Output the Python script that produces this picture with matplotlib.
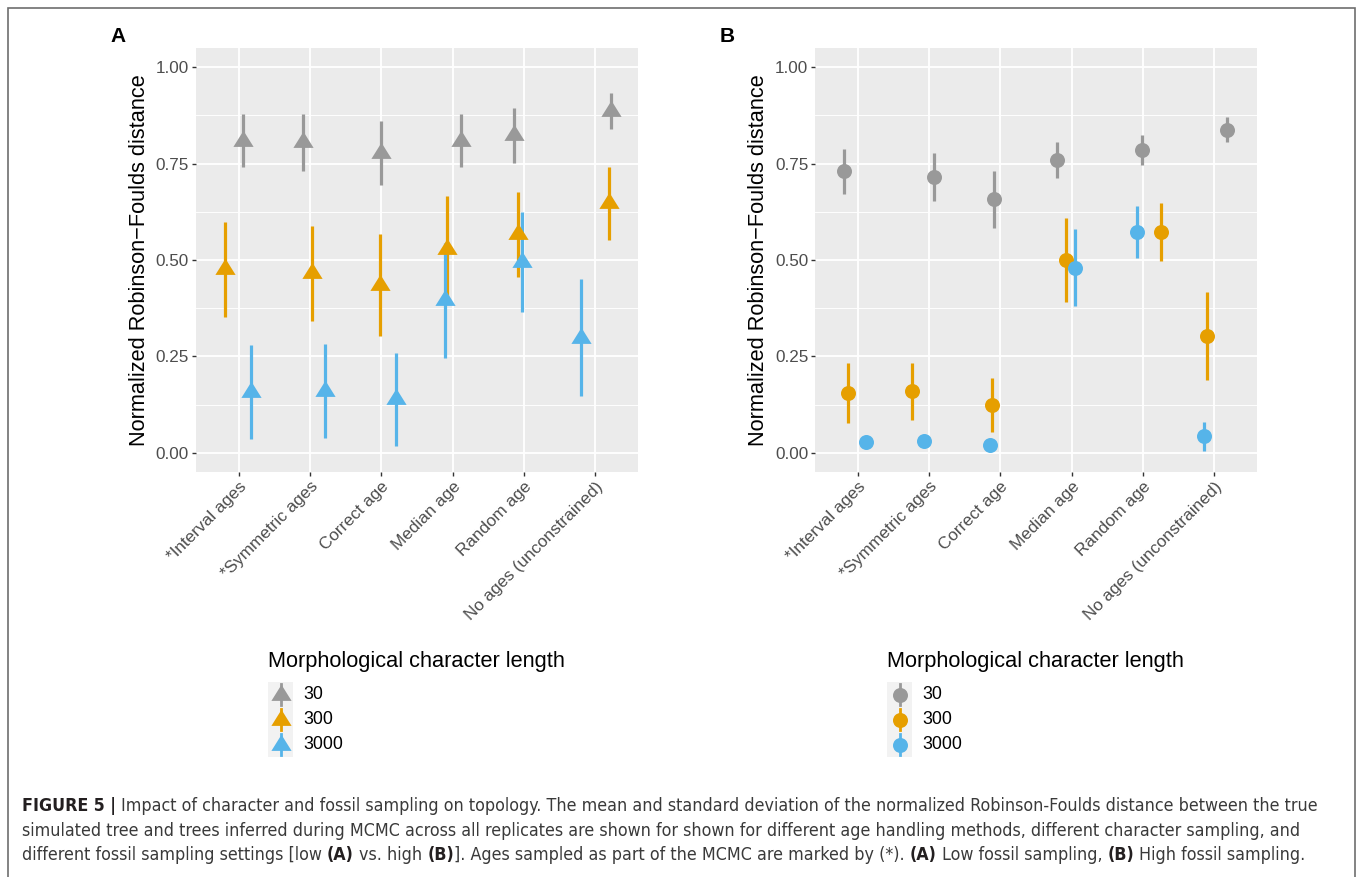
import numpy as np
import matplotlib
matplotlib.use("Agg")
import matplotlib.pyplot as plt
from matplotlib import font_manager
from matplotlib.patches import Rectangle
from matplotlib.lines import Line2D

plt.rcParams['font.family'] = ['Liberation Sans', 'DejaVu Sans']

# data
categories = ["*Interval ages", "*Symmetric ages", "Correct age",
              "Median age", "Random age", "No ages (unconstrained)"]
lengths = ["30", "300", "3000"]
colors = ["#999999", "#E69F00", "#56B4E9"]

# panel A - low fossil sampling
mean_a_30 = [0.810, 0.805, 0.778, 0.810, 0.823, 0.887]
sd_a_30 = [0.070, 0.073, 0.083, 0.070, 0.071, 0.046]
mean_a_300 = [0.476, 0.466, 0.435, 0.528, 0.567, 0.647]
sd_a_300 = [0.123, 0.123, 0.132, 0.137, 0.110, 0.094]
mean_a_3000 = [0.158, 0.161, 0.139, 0.395, 0.495, 0.298]
sd_a_3000 = [0.122, 0.122, 0.121, 0.149, 0.130, 0.152]

# panel B - high fossil sampling
mean_b_30 = [0.730, 0.715, 0.657, 0.759, 0.785, 0.838]
sd_b_30 = [0.058, 0.062, 0.074, 0.046, 0.038, 0.033]
mean_b_300 = [0.155, 0.159, 0.124, 0.500, 0.572, 0.303]
sd_b_300 = [0.079, 0.073, 0.069, 0.108, 0.075, 0.115]
mean_b_3000 = [0.027, 0.030, 0.020, 0.480, 0.573, 0.043]
sd_b_3000 = [0.010, 0.010, 0.010, 0.100, 0.068, 0.038]

# horizontal jitter of each point (category units)
jit_a_30 = [0.06, -0.105, 0.0, 0.115, -0.135, 0.22]
jit_a_300 = [-0.19, 0.025, -0.015, -0.08, -0.08, 0.195]
jit_a_3000 = [0.175, 0.21, 0.21, -0.11, -0.03, -0.205]
jit_b_30 = [-0.20, 0.07, -0.09, -0.21, -0.02, 0.18]
jit_b_300 = [-0.14, -0.24, -0.12, -0.08, 0.25, -0.10]
jit_b_3000 = [0.11, -0.07, -0.15, 0.05, -0.08, -0.14]

W, H = 1358, 877
fig = plt.figure(figsize=(W / 100, H / 100), dpi=100)

tri = [(0, 0.533), (-0.5, -0.267), (0.5, -0.267)]
TRI_MS = 15.5
DOT_MS = 10.8
TICK_FS = 12.3


def px_axes(left, top, right, bottom):
    return fig.add_axes([left / W, 1 - bottom / H, (right - left) / W, (bottom - top) / H])


def panel(ax, means, sds, jits, marker, ms):
    x = np.arange(1, len(categories) + 1)
    for m, s, j, c in zip(means, sds, jits, colors):
        m = np.array(m); s = np.array(s)
        ax.vlines(x + np.array(j), m - s, m + s, color=c, lw=2.3, zorder=2)
    for m, j, c in zip(means, jits, colors):
        ax.plot(x + np.array(j), m, ls='none', marker=marker, ms=ms, color=c,
                mec='none', zorder=3)
    ax.set_facecolor('#EBEBEB')
    for sp in ax.spines.values():
        sp.set_visible(False)
    ax.set_xlim(0.4, 6.6)
    ax.set_ylim(-0.05, 1.05)
    ax.set_xticks(x)
    ax.set_xticklabels(categories, rotation=45, ha='right', va='top',
                       rotation_mode='anchor', fontsize=TICK_FS, color='#4D4D4D')
    ax.set_yticks([0, 0.25, 0.5, 0.75, 1.0])
    ax.set_yticklabels(["0.00", "0.25", "0.50", "0.75", "1.00"], fontsize=TICK_FS, color='#4D4D4D')
    ax.set_yticks([0.125, 0.375, 0.625, 0.875], minor=True)
    ax.tick_params(which='major', length=2.75, width=1.0, color='#333333', pad=2.2)
    ax.tick_params(which='minor', length=0)
    ax.grid(which='major', color='white', lw=1.3)
    ax.grid(which='minor', axis='y', color='white', lw=0.65)
    ax.set_axisbelow(True)
    ax.set_ylabel("Normalized Robinson\u2212Foulds distance", fontsize=15.7, va='center')
    ax.yaxis.set_label_coords(-56 / 442, 0.5)


def legend(x0, marker, ms):
    fig.text(x0 / W, 1 - 662 / H, "Morphological character length", fontsize=15.7,
             va='center', ha='left')
    fig.add_artist(Rectangle((x0 / W, 1 - 757 / H), 25 / W, 75 / H,
                             transform=fig.transFigure, fc='#F2F2F2', ec='none'))
    for i, (lab, c) in enumerate(zip(lengths, colors)):
        yc = 694.5 + 25 * i
        fig.add_artist(Line2D([(x0 + 12.5) / W] * 2, [1 - (yc - 10.5) / H, 1 - (yc + 10.5) / H],
                              color=c, lw=2.0, transform=fig.transFigure))
        fig.add_artist(Line2D([(x0 + 12.5) / W], [1 - yc / H], marker=marker, ms=ms, color=c,
                              mec='none', ls='none', transform=fig.transFigure))
        fig.text((x0 + 35) / W, 1 - yc / H, lab, fontsize=12.8, va='center', ha='left')


ax_a = px_axes(196, 48, 638, 472)
panel(ax_a, [mean_a_30, mean_a_300, mean_a_3000], [sd_a_30, sd_a_300, sd_a_3000],
      [jit_a_30, jit_a_300, jit_a_3000], tri, TRI_MS)
ax_b = px_axes(815, 48, 1257, 472)
panel(ax_b, [mean_b_30, mean_b_300, mean_b_3000], [sd_b_30, sd_b_300, sd_b_3000],
      [jit_b_30, jit_b_300, jit_b_3000], 'o', DOT_MS)

legend(268, tri, TRI_MS)
legend(887, 'o', DOT_MS)

fig.text(110 / W, 1 - 36 / H, "A", fontsize=15, fontweight='bold', va='center')
fig.text(720 / W, 1 - 36 / H, "B", fontsize=15, fontweight='bold', va='center')

# outer frame
fig.add_artist(Rectangle((7.5 / W, -0.01), (1354.7 - 7.5) / W, 1 - 8 / H + 0.01,
                         transform=fig.transFigure, fill=False, ec='#6E6E6E', lw=1.2))

# caption, in a narrow face if one is installed
cap_font = ['Liberation Sans', 'DejaVu Sans']
cap_stretch = 'normal'
try:
    font_manager.findfont('Liberation Sans Narrow', fallback_to_default=False)
    cap_font = ['Liberation Sans Narrow', 'DejaVu Sans']
except ValueError:
    p = font_manager.findfont(font_manager.FontProperties(family='DejaVu Sans', stretch='condensed'))
    if 'Condensed' in p:
        cap_font = ['DejaVu Sans']
        cap_stretch = 'condensed'

cap_lines = [
    [("FIGURE 5 |", True),
     ("Impact of character and fossil sampling on topology. The mean and standard deviation "
      "of the normalized Robinson-Foulds distance between the true", False)],
    [("simulated tree and trees inferred during MCMC across all replicates are shown for shown "
      "for different age handling methods, different character sampling, and", False)],
    [("different fossil sampling settings [low", False), ("(A)", True), ("vs. high", False),
     ("(B)", True), ("]. Ages sampled as part of the MCMC are marked by (*).", False),
     ("(A)", True), ("Low fossil sampling,", False), ("(B)", True), ("High fossil sampling.", False)],
]
no_space_before = {"]. Ages sampled as part of the MCMC are marked by (*)."}

renderer = fig.canvas.get_renderer()


def cap_text(x, y, s, fs, bold, **kw):
    return fig.text(x, y, s, fontsize=fs, family=cap_font, fontstretch=cap_stretch,
                    fontweight='bold' if bold else 'normal', **kw)


def set_line(segs, y, fs):
    # draws one caption line segment by segment, returns texts and right end (px)
    sp_t = cap_text(0, 0, "a a", fs, False)
    sp_u = cap_text(0, 0, "aa", fs, False)
    space = sp_t.get_window_extent(renderer).width - sp_u.get_window_extent(renderer).width
    sp_t.remove(); sp_u.remove()
    x = 22.0
    texts = []
    for k, (s, b) in enumerate(segs):
        if k > 0 and s not in no_space_before:
            x += space
        t = cap_text(x / W, 1 - y / H, s, fs, b, va='center', ha='left',
                     color='#231F20' if b else '#3A3A3A')
        texts.append(t)
        x = t.get_window_extent(renderer).x1
    return texts, x


fs_cap = 10.0
for _ in range(3):
    texts, x_end = set_line(cap_lines[0], 806, fs_cap)
    for t in texts:
        t.remove()
    fs_cap *= (1311 - 22) / (x_end - 22)

for li, segs in enumerate(cap_lines):
    set_line(segs, 806 + 24.5 * li, fs_cap)

fig.savefig("out.png", dpi=100, facecolor='white')
